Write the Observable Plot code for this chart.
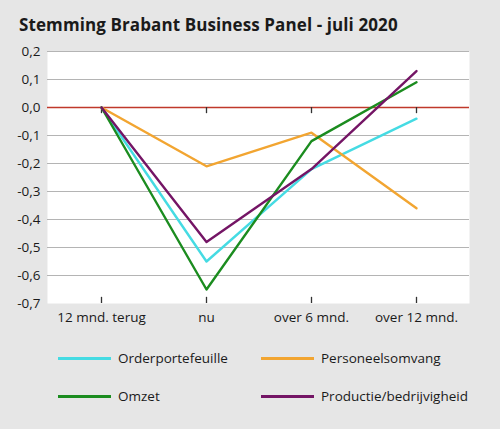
<!DOCTYPE html>
<html>
<head>
<meta charset="utf-8">
<script src="https://cdn.jsdelivr.net/npm/d3@7"></script>
<script src="https://cdn.jsdelivr.net/npm/@observablehq/plot@0.6"></script>
<style>
  html, body { margin: 0; padding: 0; background: #e6e6e6; }
  body { width: 500px; height: 429px; overflow: hidden; font-family: "Open Sans", sans-serif; color: #1a1a1a; }
  #title { position: absolute; left: 19px; top: 13px; font-size: 17px; font-weight: bold; letter-spacing: 0.1px; }
  #chart { position: absolute; left: 0; top: 40px; }
  #legend { position: absolute; left: 0; top: 349px; width: 500px; }
  .item { position: absolute; display: flex; align-items: center; font-size: 13.5px; }
  .item span.sw { display: inline-block; width: 53px; height: 3px; margin-right: 7px; }
</style>
</head>
<body>
<div id="title">Stemming Brabant Business Panel - juli 2020</div>
<div id="chart"></div>
<div id="legend"></div>
<script>
// categorieen en reeksen
const periodes = ["12 mnd. terug", "nu", "over 6 mnd.", "over 12 mnd."];
const reeksen = ["Orderportefeuille", "Personeelsomvang", "Omzet", "Productie/bedrijvigheid"];
const kleuren = ["#45dbe3", "#f2a531", "#1b8c1f", "#741565"];

const orderportefeuille = [0, -0.55, -0.22, -0.04];
const personeelsomvang = [0, -0.21, -0.09, -0.36];
const omzet = [0, -0.65, -0.12, 0.09];
const productie = [0, -0.48, -0.22, 0.13];

const yTicks = [0.2, 0.1, 0, -0.1, -0.2, -0.3, -0.4, -0.5, -0.6, -0.7];

// lange tabel voor Plot
const waarden = [orderportefeuille, personeelsomvang, omzet, productie];
const data = [];
reeksen.forEach((r, i) => {
  periodes.forEach((p, j) => data.push({reeks: r, periode: p, waarde: waarden[i][j]}));
});

const fmt = v => d3.format(".1f")(v).replace(".", ",").replace("−", "-");

const chart = Plot.plot({
  width: 500,
  height: 290,
  marginLeft: 47,
  marginRight: 31,
  marginTop: 11,
  marginBottom: 27,
  style: {fontFamily: "Open Sans, sans-serif", fontSize: "13.5px", color: "#1a1a1a", background: "transparent"},
  x: {type: "point", domain: periodes, padding: 0.5, label: null, tickSize: 0, tickPadding: 9},
  y: {domain: [-0.7, 0.2], ticks: yTicks, tickFormat: fmt, label: null, tickSize: 0, tickPadding: 7},
  color: {domain: reeksen, range: kleuren},
  marks: [
    Plot.frame({fill: "white", stroke: null}),
    Plot.ruleY(yTicks.filter(d => d !== 0 && d !== -0.7), {stroke: "#b4b4b4", strokeWidth: 1.2}),
    Plot.ruleY([0], {stroke: "#c0392b", strokeWidth: 1.3}),
    Plot.ruleX(periodes, {x: d => d, y1: 0, y2: -0.022, stroke: "#333", strokeWidth: 1.3}),
    Plot.ruleX(periodes, {x: d => d, y1: -0.7, y2: -0.678, stroke: "#333", strokeWidth: 1.3}),
    Plot.line(data, {x: "periode", y: "waarde", z: "reeks", stroke: "reeks", strokeWidth: 2.4})
  ]
});
document.getElementById("chart").append(chart);

// legenda
const legend = document.getElementById("legend");
const pos = [[58, 0], [261, 0], [58, 38], [261, 38]];
reeksen.forEach((r, i) => {
  const el = document.createElement("div");
  el.className = "item";
  el.style.left = pos[i][0] + "px";
  el.style.top = pos[i][1] + "px";
  el.innerHTML = `<span class="sw" style="background:${kleuren[i]}"></span>${r}`;
  legend.append(el);
});
</script>
</body>
</html>
